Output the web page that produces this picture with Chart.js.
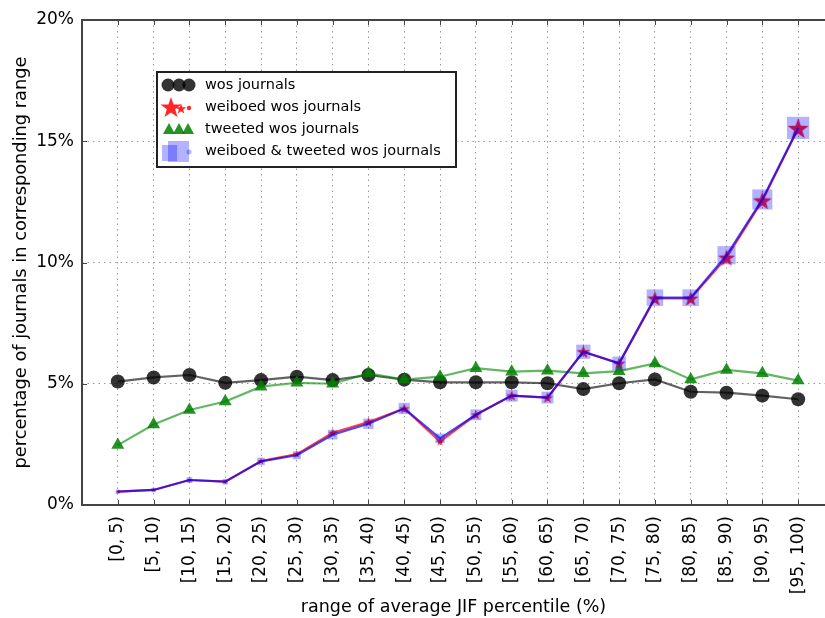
<!DOCTYPE html>
<html lang="en">
<head>
<meta charset="UTF-8">
<title>journals by JIF percentile</title>
<script src="https://cdn.jsdelivr.net/npm/chart.js"></script>
<style>
  html, body { margin: 0; padding: 0; background: #fff; overflow: hidden; }
  #wrap { width: 825px; height: 618px; }
</style>
</head>
<body>
<div id="wrap"><canvas id="jifChart" width="825" height="618"></canvas></div>
<script>
const categories = ['[0, 5)', '[5, 10)', '[10, 15)', '[15, 20)', '[20, 25)', '[25, 30)', '[30, 35)',
  '[35, 40)', '[40, 45)', '[45, 50)', '[50, 55)', '[55, 60)', '[60, 65)', '[65, 70)', '[70, 75)',
  '[75, 80)', '[80, 85)', '[85, 90)', '[90, 95)', '[95, 100)'];
const yTicks = [0, 5, 10, 15, 20];

const wosJournals = [5.09, 5.26, 5.36, 5.04, 5.15, 5.29, 5.15, 5.36, 5.17, 5.06,
  5.06, 5.06, 5.02, 4.78, 5.02, 5.18, 4.67, 4.63, 4.51, 4.36];
const weiboedJournals = [0.55, 0.62, 1.03, 0.96, 1.81, 2.10, 2.98, 3.42, 3.98, 2.62,
  3.72, 4.51, 4.43, 6.32, 5.84, 8.52, 8.52, 10.20, 12.55, 15.53];
const tweetedJournals = [2.47, 3.32, 3.92, 4.27, 4.88, 5.04, 5.00, 5.43, 5.17, 5.29,
  5.64, 5.50, 5.54, 5.43, 5.52, 5.84, 5.18, 5.57, 5.43, 5.13];
const bothJournals = [0.55, 0.62, 1.03, 0.96, 1.80, 2.05, 2.90, 3.35, 3.98, 2.75,
  3.72, 4.51, 4.43, 6.32, 5.84, 8.55, 8.55, 10.30, 12.60, 15.55];

const FONT = "'DejaVu Sans', sans-serif";

function toPoints(values) {
  return values.map((v, i) => ({ x: i, y: v }));
}

function starPath(ctx, cx, cy, r) {
  ctx.beginPath();
  for (let k = 0; k < 10; k++) {
    const rad = k % 2 === 0 ? r : r * 0.4;
    const a = -Math.PI / 2 + k * Math.PI / 5;
    const px = cx + rad * Math.cos(a), py = cy + rad * Math.sin(a);
    if (k === 0) ctx.moveTo(px, py); else ctx.lineTo(px, py);
  }
  ctx.closePath();
}

// stars are not a built-in filled style, so make small canvases for them
const starCache = {};
function starImage(r) {
  const key = r.toFixed(1);
  if (starCache[key]) return starCache[key];
  const c = document.createElement('canvas');
  const size = Math.ceil(r * 2 + 4);
  c.width = size; c.height = size;
  const g = c.getContext('2d');
  starPath(g, size / 2, size / 2 + r * 0.08, r);
  g.fillStyle = 'rgba(255,0,0,0.9)';
  g.fill();
  starCache[key] = c;
  return c;
}

// marker size grows with the value (area ~ value)
const starRadius = ctx => 2.8 * Math.sqrt(ctx.raw ? ctx.raw.y : 1);
const squareRadius = ctx => 4.0 * Math.sqrt(ctx.raw ? ctx.raw.y : 1);

const framePlugin = {
  id: 'frame',
  afterDatasetsDraw(chart) {
    const { ctx, chartArea: a, scales } = chart;
    ctx.save();
    ctx.strokeStyle = '#444';
    ctx.lineWidth = 1;
    ctx.beginPath();
    categories.forEach((c, i) => {
      const x = Math.round(scales.x.getPixelForValue(i)) + 0.5;
      ctx.moveTo(x, a.bottom); ctx.lineTo(x, a.bottom - 5);
      ctx.moveTo(x, a.top); ctx.lineTo(x, a.top + 5);
    });
    yTicks.forEach(v => {
      const y = Math.round(scales.y.getPixelForValue(v)) + 0.5;
      ctx.moveTo(a.left, y); ctx.lineTo(a.left + 5, y);
    });
    ctx.stroke();
    // the right spine falls outside the picture
    ctx.lineWidth = 2;
    ctx.beginPath();
    ctx.moveTo(a.right + 5, a.top); ctx.lineTo(a.left, a.top);
    ctx.lineTo(a.left, a.bottom); ctx.lineTo(a.right + 5, a.bottom);
    ctx.stroke();
    ctx.restore();
  },
  afterDraw(chart) {
    const ctx = chart.ctx;
    const bx = 157, by = 72, bw = 299, bh = 95;
    const rows = [85, 107, 129, 151];
    const labels = ['wos journals', 'weiboed wos journals', 'tweeted wos journals',
      'weiboed & tweeted wos journals'];
    ctx.save();
    ctx.fillStyle = '#fff';
    ctx.fillRect(bx, by, bw, bh);
    ctx.strokeStyle = '#222';
    ctx.lineWidth = 2;
    ctx.strokeRect(bx, by, bw, bh);

    // circles
    ctx.fillStyle = 'rgba(0,0,0,0.8)';
    [168, 179, 189].forEach(x => {
      ctx.beginPath(); ctx.arc(x, rows[0], 6.5, 0, Math.PI * 2); ctx.fill();
    });
    // stars
    ctx.fillStyle = 'rgba(255,0,0,0.85)';
    starPath(ctx, 171, rows[1] + 1, 11); ctx.fill();
    starPath(ctx, 181, rows[1] + 2, 5.5); ctx.fill();
    ctx.beginPath(); ctx.arc(189, rows[1] + 1, 2.2, 0, Math.PI * 2); ctx.fill();
    // triangles
    ctx.fillStyle = 'rgba(0,128,0,0.85)';
    [169, 179, 188].forEach(x => {
      ctx.beginPath();
      ctx.moveTo(x, rows[2] - 6);
      ctx.lineTo(x + 6, rows[2] + 5);
      ctx.lineTo(x - 6, rows[2] + 5);
      ctx.closePath(); ctx.fill();
    });
    // squares
    ctx.fillStyle = 'rgba(0,0,255,0.3)';
    ctx.fillRect(168, rows[3] - 10, 21, 21);
    ctx.fillRect(162, rows[3] - 6, 15, 16);
    ctx.beginPath(); ctx.arc(189, rows[3] + 1, 2.5, 0, Math.PI * 2); ctx.fill();

    ctx.fillStyle = '#000';
    ctx.font = '14.5px ' + FONT;
    ctx.textBaseline = 'middle';
    labels.forEach((t, i) => ctx.fillText(t, 205, rows[i]));
    ctx.restore();
  }
};

new Chart(document.getElementById('jifChart'), {
  type: 'line',
  data: {
    datasets: [
      {
        label: 'wos journals',
        data: toPoints(wosJournals),
        order: 4,
        borderColor: 'rgba(0,0,0,0.62)',
        borderWidth: 2.2,
        pointStyle: 'circle',
        pointRadius: 7,
        pointBackgroundColor: 'rgba(0,0,0,0.8)',
        pointBorderWidth: 0
      },
      {
        label: 'weiboed wos journals',
        data: toPoints(weiboedJournals),
        order: 3,
        borderColor: 'rgba(255,0,0,0.75)',
        borderWidth: 2.2,
        pointStyle: ctx => starImage(starRadius(ctx)),
        pointRadius: 8,
        pointBorderWidth: 0
      },
      {
        label: 'tweeted wos journals',
        data: toPoints(tweetedJournals),
        order: 2,
        borderColor: 'rgba(0,140,0,0.62)',
        borderWidth: 2.2,
        pointStyle: 'triangle',
        pointRadius: 7.5,
        pointBackgroundColor: 'rgba(0,128,0,0.85)',
        pointBorderWidth: 0
      },
      {
        label: 'weiboed & tweeted wos journals',
        data: toPoints(bothJournals),
        order: 1,
        borderColor: 'rgba(0,0,255,0.7)',
        borderWidth: 2.2,
        pointStyle: 'rect',
        pointRadius: squareRadius,
        pointBackgroundColor: 'rgba(0,0,255,0.3)',
        pointBorderWidth: 0
      }
    ]
  },
  options: {
    responsive: false,
    animation: false,
    events: [],
    layout: { autoPadding: false, padding: { top: 20, right: 0, bottom: 0, left: 0 } },
    plugins: { legend: { display: false }, tooltip: { enabled: false } },
    scales: {
      x: {
        type: 'linear',
        min: -1,
        max: 19.75,
        afterBuildTicks: axis => { axis.ticks = categories.map((c, i) => ({ value: i })); },
        afterFit: scale => {
          scale.height = 113;
          scale.paddingLeft = 0;
          scale.paddingRight = 0;
        },
        grid: { color: '#999', lineWidth: 1, drawTicks: false },
        border: { display: false, dash: [1.5, 4] },
        ticks: {
          autoSkip: false,
          minRotation: 90,
          maxRotation: 90,
          padding: 11,
          color: '#000',
          font: { family: FONT, size: 17 },
          callback: v => categories[v]
        },
        title: {
          display: true,
          text: 'range of average JIF percentile (%)',
          color: '#000',
          font: { family: FONT, size: 17.5 },
          padding: { top: 0, bottom: 0 }
        }
      },
      y: {
        min: 0,
        max: 20,
        afterBuildTicks: axis => { axis.ticks = yTicks.map(v => ({ value: v })); },
        afterFit: scale => { scale.width = 82; },
        grid: { color: '#999', lineWidth: 1, drawTicks: false },
        border: { display: false, dash: [1.5, 4] },
        ticks: {
          padding: 8,
          color: '#000',
          font: { family: FONT, size: 17 },
          callback: v => v + '%'
        },
        title: {
          display: true,
          text: 'percentage of journals in corresponding range',
          color: '#000',
          font: { family: FONT, size: 17.8 },
          padding: { top: 11, bottom: 0 }
        }
      }
    }
  },
  plugins: [framePlugin]
});
</script>
</body>
</html>
